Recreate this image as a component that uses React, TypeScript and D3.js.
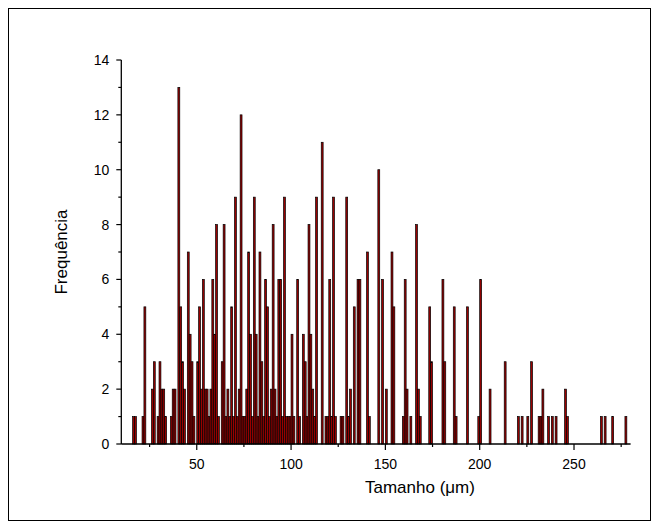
import React from "react";
import * as d3 from "d3";

// Histogram bins (bin start in µm) and frequencies
const binStarts: number[] = [
  16, 17, 21, 22, 26, 27, 29, 30, 31, 32, 33, 36, 37, 38, 40, 41, 42, 43, 45, 46,
  47, 48, 50, 51, 52, 53, 54, 55, 56, 57, 58, 59, 60, 61, 63, 64, 65, 66, 67, 68,
  69, 70, 71, 72, 73, 74, 75, 76, 77, 78, 79, 80, 81, 82, 83, 84, 85, 86, 87, 88,
  89, 90, 91, 92, 93, 94, 95, 96, 97, 98, 99, 100, 101, 103, 104, 106, 107, 108, 109, 110,
  111, 112, 113, 116, 118, 119, 120, 121, 122, 123, 126, 127, 129, 130, 131, 133, 135, 136, 140, 141,
  146, 148, 150, 153, 154, 159, 160, 161, 163, 166, 167, 168, 173, 174, 180, 181, 186, 187, 193, 199,
  200, 205, 213, 220, 222, 225, 227, 231, 232, 233, 236, 238, 240, 245, 246, 264, 266, 270, 277,
];
const frequencies: number[] = [
  1, 1, 1, 5, 2, 3, 1, 3, 2, 2, 1, 1, 2, 2, 13, 5, 3, 2, 7, 4,
  3, 1, 3, 5, 2, 6, 2, 2, 1, 2, 6, 4, 8, 1, 3, 8, 1, 2, 1, 5,
  1, 9, 1, 2, 12, 1, 1, 2, 7, 4, 1, 9, 4, 1, 7, 3, 1, 6, 5, 1,
  2, 8, 2, 1, 6, 6, 1, 9, 1, 1, 1, 4, 1, 6, 1, 4, 3, 1, 8, 4,
  2, 1, 9, 11, 1, 1, 6, 1, 9, 1, 1, 1, 9, 1, 2, 5, 6, 6, 7, 1,
  10, 6, 2, 7, 5, 1, 6, 2, 1, 8, 2, 1, 5, 3, 6, 3, 5, 1, 5, 1,
  6, 2, 3, 1, 1, 1, 3, 1, 1, 2, 1, 1, 1, 2, 1, 1, 1, 1, 1,
];
const xMajorTicks: number[] = [50, 100, 150, 200, 250];
const xMinorTicks: number[] = [25, 75, 125, 175, 225, 275];
const yMajorTicks: number[] = [0, 2, 4, 6, 8, 10, 12, 14];
const yMinorTicks: number[] = [1, 3, 5, 7, 9, 11, 13];
const binWidth = 1;

const W = 643;
const H = 513;
const FONT = "'Liberation Sans', Arial, Helvetica, sans-serif";

export default function App() {
  const x = d3.scaleLinear().domain([10, 280]).range([113.3, 622.6]);
  const y = d3.scaleLinear().domain([0, 14]).range([436, 52]);
  const bars = binStarts.map((b, i) => ({ b, f: frequencies[i] }));

  return (
    <svg width={W} height={H} style={{ display: "block" }}>
      <rect x={0.5} y={0.5} width={W - 1} height={H - 1} fill="#fff" stroke="#000" strokeWidth={1} />
      {bars.map((d, i) => (
        <rect
          key={i}
          x={x(d.b)}
          y={y(d.f)}
          width={x(d.b + binWidth) - x(d.b)}
          height={y(0) - y(d.f)}
          fill="#990000"
          stroke="#000"
          strokeWidth={0.7}
        />
      ))}
      {/* Y axis */}
      <line x1={x(10)} x2={x(10)} y1={y(0)} y2={y(14)} stroke="#000" strokeWidth={1.3} />
      {yMajorTicks.map((t) => (
        <g key={"ym" + t}>
          <line x1={x(10) - 5} x2={x(10)} y1={y(t)} y2={y(t)} stroke="#000" strokeWidth={1.2} />
          <text x={x(10) - 12} y={y(t) + 5} textAnchor="end" fontFamily={FONT} fontSize={14}>
            {t}
          </text>
        </g>
      ))}
      {yMinorTicks.map((t) => (
        <line key={"yn" + t} x1={x(10) - 3} x2={x(10)} y1={y(t)} y2={y(t)} stroke="#000" strokeWidth={1.2} />
      ))}
      {/* X axis */}
      <line x1={x(10)} x2={x(280)} y1={y(0)} y2={y(0)} stroke="#000" strokeWidth={1.3} />
      {xMajorTicks.map((t) => (
        <g key={"xm" + t}>
          <line x1={x(t)} x2={x(t)} y1={y(0)} y2={y(0) + 6} stroke="#000" strokeWidth={1.2} />
          <text x={x(t)} y={y(0) + 25} textAnchor="middle" fontFamily={FONT} fontSize={14}>
            {t}
          </text>
        </g>
      ))}
      {xMinorTicks.map((t) => (
        <line key={"xn" + t} x1={x(t)} x2={x(t)} y1={y(0)} y2={y(0) + 3} stroke="#000" strokeWidth={1.2} />
      ))}
      <text x={(x(10) + x(280)) / 2 + 44} y={485} textAnchor="middle" fontFamily={FONT} fontSize={17}>
        Tamanho (μm)
      </text>
      <text
        transform={`translate(59,${(y(0) + y(14)) / 2}) rotate(-90)`}
        textAnchor="middle"
        fontFamily={FONT}
        fontSize={17}
      >
        Frequência
      </text>
    </svg>
  );
}
